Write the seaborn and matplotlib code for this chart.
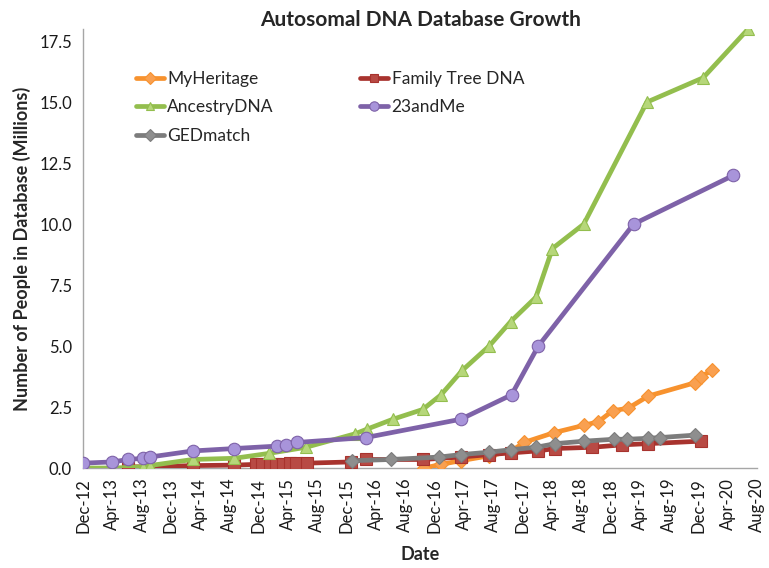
import matplotlib
matplotlib.use("Agg")
import matplotlib.pyplot as plt
import matplotlib.dates as mdates
import seaborn as sns
import pandas as pd

# ---------------- data ----------------
myheritage_dates = ["2016-10-18", "2016-12-27", "2017-03-19", "2017-07-15", "2017-10-16",
                    "2017-12-07", "2018-04-10", "2018-08-12", "2018-10-12", "2018-12-10",
                    "2019-02-12", "2019-05-07", "2019-11-18", "2019-12-10", "2020-01-28"]
myheritage_vals = [0.0, 0.15, 0.3, 0.5, 0.7, 1.05, 1.45, 1.75, 1.9, 2.35, 2.45, 2.95, 3.5, 3.75, 4.0]

ftdna_dates = ["2013-06-04", "2013-08-28", "2014-03-01", "2014-08-22", "2014-11-19",
               "2014-12-15", "2015-01-15", "2015-02-12", "2015-03-13", "2015-04-10",
               "2015-05-04", "2015-06-18", "2015-12-19", "2016-02-19", "2016-10-12",
               "2017-03-19", "2017-07-15", "2017-10-12", "2018-02-01", "2018-04-16",
               "2018-09-15", "2019-01-19", "2019-05-07", "2019-12-10"]
ftdna_vals = [0.05, 0.05, 0.1, 0.12, 0.15, 0.15, 0.17, 0.18, 0.18, 0.2, 0.2, 0.2,
              0.25, 0.35, 0.35, 0.45, 0.55, 0.62, 0.7, 0.8, 0.85, 0.95, 1.0, 1.1]

ancestry_dates = ["2012-12-01", "2013-04-01", "2013-08-07", "2013-09-04", "2014-03-01",
                  "2014-08-22", "2015-01-12", "2015-06-15", "2016-01-04", "2016-02-25",
                  "2016-06-10", "2016-10-12", "2016-12-27", "2017-03-25", "2017-07-15",
                  "2017-10-12", "2018-01-25", "2018-04-04", "2018-08-12", "2019-05-01",
                  "2019-12-21", "2020-06-25"]
ancestry_vals = [0.0, 0.0, 0.05, 0.1, 0.35, 0.4, 0.6, 0.85, 1.4, 1.6, 2.0, 2.4, 3.0, 4.0,
                 5.0, 6.0, 7.0, 9.0, 10.0, 15.0, 16.0, 18.0]

andme_dates = ["2012-12-01", "2013-04-01", "2013-06-07", "2013-08-07", "2013-09-04",
               "2014-03-01", "2014-08-22", "2015-02-16", "2015-03-25", "2015-05-10",
               "2016-02-19", "2017-03-19", "2017-10-16", "2018-02-04", "2019-03-07",
               "2020-04-25"]
andme_vals = [0.2, 0.25, 0.35, 0.4, 0.45, 0.7, 0.8, 0.9, 0.95, 1.05, 1.25, 2.0, 3.0, 5.0,
              10.0, 12.0]

gedmatch_dates = ["2015-12-24", "2016-06-01", "2016-12-19", "2017-03-19", "2017-07-15",
                  "2017-10-12", "2018-01-25", "2018-04-16", "2018-08-12", "2018-12-16",
                  "2019-02-09", "2019-05-07", "2019-06-25", "2019-11-18"]
gedmatch_vals = [0.3, 0.35, 0.45, 0.55, 0.65, 0.75, 0.85, 1.0, 1.1, 1.18, 1.18, 1.22,
                 1.25, 1.35]

series_names = ["MyHeritage", "Family Tree DNA", "AncestryDNA", "23andMe", "GEDmatch"]

# ---------------- build table ----------------
frames = []
for name, d, v in zip(series_names,
                      [myheritage_dates, ftdna_dates, ancestry_dates, andme_dates, gedmatch_dates],
                      [myheritage_vals, ftdna_vals, ancestry_vals, andme_vals, gedmatch_vals]):
    frames.append(pd.DataFrame({"Date": pd.to_datetime(d), "Value": v, "Series": name}))
df = pd.concat(frames, ignore_index=True)

# ---------------- style ----------------
sns.set_theme(style="white")
plt.rcParams['font.family'] = ['Lato', 'DejaVu Sans']

line_colors = {"MyHeritage": "#F7922E", "Family Tree DNA": "#A8332E",
               "AncestryDNA": "#93BE4E", "23andMe": "#7E62A8", "GEDmatch": "#7C7C7C"}
fill_colors = {"MyHeritage": "#F9A050", "Family Tree DNA": "#B84A44",
               "AncestryDNA": "#B6D77A", "23andMe": "#A894DA", "GEDmatch": "#8E8E8E"}
markers = {"MyHeritage": "D", "Family Tree DNA": "s", "AncestryDNA": "^",
           "23andMe": "o", "GEDmatch": "D"}
msize = {"MyHeritage": 7.5, "Family Tree DNA": 8, "AncestryDNA": 8.5,
         "23andMe": 9, "GEDmatch": 7.5}

fig = plt.figure(figsize=(7.69, 5.68), dpi=100)
ax = fig.add_axes([0.108, 0.176, 0.8765, 0.773])

handles = {}
for i, name in enumerate(series_names):
    sub = df[df["Series"] == name]
    sns.lineplot(data=sub, x="Date", y="Value", ax=ax, color=line_colors[name],
                 linewidth=3.4, marker=markers[name], markersize=msize[name],
                 markerfacecolor=fill_colors[name], markeredgecolor=line_colors[name],
                 markeredgewidth=0.8, label=name, zorder=3 + i, legend=False)
    handles[name] = ax.lines[-1]

# ---------------- axes ----------------
ax.set_xlim(pd.Timestamp("2012-12-01"), pd.Timestamp("2020-08-01"))
ax.set_ylim(0, 18.0)
ax.set_yticks([0, 2.5, 5.0, 7.5, 10.0, 12.5, 15.0, 17.5])
ax.yaxis.set_major_formatter(matplotlib.ticker.FormatStrFormatter('%.1f'))
ax.xaxis.set_major_locator(mdates.MonthLocator(bymonth=[4, 8, 12]))
ax.xaxis.set_major_formatter(mdates.DateFormatter('%b-%y'))

for s in ["top", "right"]:
    ax.spines[s].set_visible(False)
for s in ["left", "bottom"]:
    ax.spines[s].set_color("#A6A6A6")
    ax.spines[s].set_linewidth(1.0)
ax.tick_params(axis="both", which="major", direction="out", length=4, width=1,
               color="#A6A6A6", labelsize=12, labelcolor="#1a1a1a")
ax.tick_params(axis="x", labelrotation=90, pad=3)
ax.tick_params(axis="y", pad=4)
ax.grid(False)

ax.set_xlabel("Date", fontsize=13, fontweight="bold", labelpad=10)
ax.set_ylabel("Number of People in Database (Millions)", fontsize=13,
              fontweight="bold", labelpad=6)
ax.set_title("Autosomal DNA Database Growth", fontsize=15, fontweight="bold", pad=2)

order = ["MyHeritage", "AncestryDNA", "GEDmatch", "Family Tree DNA", "23andMe"]
leg = ax.legend([handles[n] for n in order], order, loc="upper left",
                bbox_to_anchor=(0.055, 0.94), ncol=2, frameon=False, fontsize=12.5,
                handlelength=1.6, handletextpad=0.2, columnspacing=5.0,
                labelspacing=0.72, markerscale=0.75)

fig.savefig("out.png", dpi=100)
